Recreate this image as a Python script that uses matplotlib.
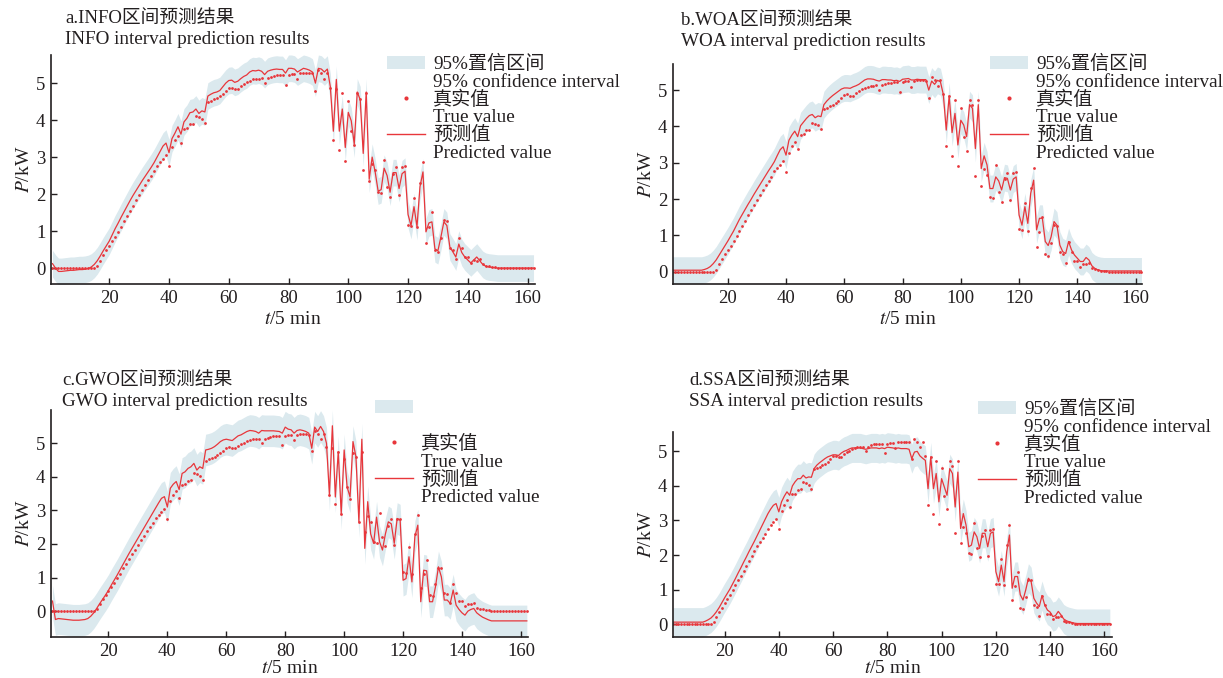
import numpy as np
import matplotlib.pyplot as plt
from matplotlib.patches import Patch
from matplotlib.lines import Line2D

plt.rcParams['font.family'] = ['Liberation Serif', 'Noto Sans CJK SC']
plt.rcParams['mathtext.fontset'] = 'stix'
ink = '#231f20'
plt.rcParams['text.color'] = ink
plt.rcParams['axes.labelcolor'] = ink
plt.rcParams['xtick.color'] = ink
plt.rcParams['ytick.color'] = ink

# 时间步 (5 min)
t = np.arange(1, 163)

# 真实值 (四个子图相同)
true_p = [0]*15 + [
    0.05, 0.2, 0.36, 0.48, 0.6, 0.72, 0.85, 0.98, 1.12, 1.27,
    1.4, 1.55, 1.69, 1.83, 1.97, 2.11, 2.25, 2.38, 2.5, 2.62,
    2.76, 2.86, 2.95, 3.05, 2.75, 3.28, 3.45, 3.58, 3.38, 3.76,
    3.78, 3.89, 3.9, 4.1, 4.08, 4.03, 3.92, 4.48, 4.52, 4.56,
    4.6, 4.64, 4.7, 4.78, 4.87, 4.88, 4.85, 4.85, 4.92, 4.98,
    5.02, 5.07, 5.1, 5.12, 5.12, 5.13, 5.01, 5.13, 5.17, 5.2,
    5.21, 5.22, 5.22, 4.94, 5.22, 5.24, 5.24, 5.1, 5.26, 5.28,
    5.27, 5.27, 5.26, 4.78, 5.35, 5.27, 5.12, 5.28, 4.88, 3.45,
    4.85, 3.19, 4.73, 2.9, 4.52, 3.7, 3.33, 4.72, 4.58, 2.64,
    4.73, 2.35, 2.82, 2.65, 2.05, 2.02, 2.93, 2.2, 1.93, 2.55,
    2.73, 1.97, 2.73, 2.75, 1.17, 1.15, 1.9, 1.12, 2.3, 2.86,
    0.69, 1.1, 1.51, 0.48, 0.44, 0.8, 1.29, 1.27, 0.55, 0.5,
    0.25, 0.82, 0.55, 0.3, 0.3, 0.14, 0.22, 0.2, 0.25, 0.1,
    0.07, 0.05, 0.03, 0.02, 0.01] + [0]*12

# 各模型预测值
pred_info = [
    0.12, 0.0, -0.09, -0.09, -0.08, -0.07, -0.06, -0.06, -0.05, -0.04,
    -0.04, -0.03, -0.01, 0.03, 0.1, 0.2, 0.33, 0.47, 0.6, 0.73,
    0.9, 1.07, 1.22, 1.38, 1.53, 1.68, 1.83, 1.97, 2.1, 2.23,
    2.36, 2.48, 2.6, 2.72, 2.85, 3.0, 3.15, 3.3, 3.38, 3.12,
    3.5, 3.65, 3.82, 3.62, 3.95, 4.05, 4.2, 4.22, 4.3, 4.18,
    4.25, 4.22, 4.65, 4.7, 4.74, 4.76, 4.8, 4.9, 5.0, 5.07,
    5.08, 5.02, 5.05, 5.12, 5.18, 5.22, 5.3, 5.34, 5.33, 5.35,
    5.32, 5.23, 5.32, 5.35, 5.37, 5.38, 5.37, 5.37, 5.27, 5.4,
    5.4, 5.38, 5.3, 5.35, 5.4, 5.38, 5.35, 5.3, 5.0, 5.4,
    5.38, 5.3, 5.38, 4.9, 3.7, 5.1, 3.7, 4.3, 3.26, 4.21,
    3.98, 3.35, 4.76, 4.55, 3.1, 4.76, 2.4, 3.0, 2.6, 2.08,
    2.12, 2.7, 2.5, 2.05, 2.58, 2.58, 2.15, 2.55, 2.62, 1.45,
    1.15, 1.66, 1.12, 2.2, 2.6, 0.98, 1.22, 1.25, 0.52, 0.47,
    0.84, 1.25, 1.15, 0.57, 0.44, 0.3, 0.65, 0.42, 0.3, 0.22,
    0.14, 0.22, 0.3, 0.2, 0.1, 0.05, 0.03, 0.02, 0.01] + [0.0]*13

pred_woa = [0.04]*11 + [
    0.06, 0.09, 0.14, 0.22, 0.32, 0.45, 0.58, 0.71, 0.84, 0.98,
    1.12, 1.28, 1.44, 1.58, 1.72, 1.86, 1.99, 2.13, 2.26, 2.39,
    2.52, 2.65, 2.78, 2.9, 3.03, 3.2, 3.36, 3.44, 3.21, 3.62,
    3.76, 3.87, 3.72, 4.02, 4.12, 4.22, 4.3, 4.33, 4.24, 4.29,
    4.27, 4.6, 4.7, 4.78, 4.85, 4.91, 4.97, 5.03, 5.06, 5.06,
    5.05, 5.09, 5.12, 5.16, 5.22, 5.28, 5.31, 5.31, 5.3, 5.27,
    5.25, 5.29, 5.29, 5.28, 5.28, 5.26, 5.27, 5.24, 5.3, 5.31,
    5.32, 5.28, 5.28, 5.3, 5.29, 5.29, 5.29, 5.0, 5.25, 5.16,
    5.27, 5.23, 4.88, 3.9, 4.84, 3.83, 4.36, 3.49, 4.17, 4.04,
    3.72, 4.6, 4.5, 3.39, 4.6, 2.84, 3.19, 2.94, 2.29, 2.29,
    2.61, 2.5, 2.25, 2.59, 2.57, 2.25, 2.55, 2.61, 1.56, 1.28,
    1.79, 1.33, 2.16, 2.52, 1.15, 1.47, 1.47, 0.83, 0.72, 0.96,
    1.38, 1.28, 0.73, 0.55, 0.5, 0.83, 0.6, 0.46, 0.37, 0.28,
    0.28, 0.39, 0.32, 0.16, 0.09, 0.05, 0.03] + [0.02]*14

pred_gwo = [
    0.3, -0.25, -0.22, -0.23, -0.24, -0.25, -0.26, -0.27, -0.27, -0.27,
    -0.26, -0.25, -0.22, -0.15, -0.05, 0.08, 0.22, 0.35, 0.48, 0.62,
    0.78, 0.93, 1.08, 1.24, 1.4, 1.56, 1.72, 1.87, 2.02, 2.17,
    2.32, 2.47, 2.62, 2.77, 2.92, 3.07, 3.22, 3.36, 3.41, 3.1,
    3.66, 3.78, 3.86, 3.62, 4.1, 4.15, 4.25, 4.3, 4.4, 4.2,
    4.3, 4.25, 4.8, 4.82, 4.85, 4.9, 4.97, 5.05, 5.1, 5.12,
    5.1, 5.08, 5.15, 5.22, 5.25, 5.3, 5.35, 5.38, 5.37, 5.35,
    5.3, 5.38, 5.37, 5.37, 5.37, 5.37, 5.36, 5.35, 5.3, 5.48,
    5.42, 5.4, 5.3, 5.38, 5.4, 5.38, 5.35, 5.3, 4.85, 5.48,
    5.35, 5.5, 5.35, 5.0, 3.46, 5.52, 3.4, 4.75, 2.9, 4.8,
    3.7, 3.4, 5.05, 4.6, 2.66, 5.12, 1.87, 3.26, 2.3, 2.02,
    2.8, 2.07, 1.82, 2.3, 2.66, 2.6, 2.02, 2.76, 2.71, 0.92,
    0.97, 1.62, 0.87, 2.22, 2.56, 0.28, 1.22, 1.2, 0.28, 0.28,
    0.73, 1.32, 1.02, 0.33, 0.33, 0.23, 0.63, 0.18, 0.05, -0.05,
    -0.12, 0.0, 0.05, 0.08, -0.05, -0.12, -0.18, -0.22, -0.26] + [-0.29]*13

pred_ssa = [0.06]*12 + [
    0.09, 0.13, 0.18, 0.26, 0.36, 0.48, 0.62, 0.76, 0.89, 1.02,
    1.17, 1.32, 1.48, 1.63, 1.79, 1.94, 2.1, 2.25, 2.4, 2.56,
    2.72, 2.88, 3.04, 3.2, 3.33, 3.44, 3.49, 3.25, 3.54, 3.7,
    3.83, 3.73, 4.0, 4.12, 4.21, 4.21, 4.31, 4.23, 4.26, 4.25,
    4.5, 4.6, 4.67, 4.73, 4.79, 4.84, 4.87, 4.9, 4.9, 4.88,
    4.95, 5.0, 5.03, 5.07, 5.1, 5.1, 5.1, 5.1, 5.08, 5.06,
    5.08, 5.1, 5.1, 5.1, 5.08, 5.1, 5.08, 5.12, 5.11, 5.1,
    5.08, 5.1, 5.08, 5.08, 5.08, 5.06, 4.79, 4.98, 5.0, 4.87,
    4.8, 4.74, 3.92, 4.84, 3.92, 4.36, 3.54, 4.21, 3.97, 3.73,
    4.5, 4.36, 3.39, 4.4, 2.77, 3.2, 2.87, 2.24, 2.29, 2.67,
    2.53, 2.19, 2.63, 2.63, 2.24, 2.63, 2.67, 1.52, 1.23, 1.71,
    1.23, 2.1, 2.58, 1.04, 1.38, 1.38, 0.85, 0.7, 0.99, 1.33,
    1.23, 0.75, 0.61, 0.51, 0.83, 0.56, 0.41, 0.35, 0.22, 0.25,
    0.37, 0.27, 0.15, 0.1, 0.07, 0.05, 0.03] + [0.02]*13

# 置信区间半宽
half_width = [0.36, 0.37, 0.47, 0.42]

titles_cn = ['a.INFO区间预测结果', 'b.WOA区间预测结果', 'c.GWO区间预测结果', 'd.SSA区间预测结果']
titles_en = ['INFO interval prediction results', 'WOA interval prediction results',
             'GWO interval prediction results', 'SSA interval prediction results']
preds = [pred_info, pred_woa, pred_gwo, pred_ssa]

W, H = 1223, 678
band_c = '#dbe9ee'
red = '#e8363b'

# 像素位置: 左, 上, 右, 下
boxes = [(51, 55, 535, 284), (673, 64, 1142, 284), (51, 410, 528, 637), (673, 432, 1112, 637)]
ylims = [(-0.43, 5.76), (-0.34, 5.72), (-0.77, 5.99), (-0.37, 5.56)]
xlims = [(0.5, 162.5), (1.2, 162.2), (0.5, 162.4), (1.0, 162.8)]
title_pos = [(65, 18), (681, 20), (62, 380), (689, 380)]
legend_pos = [(387, 55), (990, 55), (375, 400), (978, 400)]
xlabel_pad = [3, 3, 0, 0]

fig = plt.figure(figsize=(W / 100, H / 100), dpi=100)

for i in range(4):
    l, tp, r, b = boxes[i]
    ax = fig.add_axes([l / W, 1 - b / H, (r - l) / W, (b - tp) / H])
    p = np.array(preds[i])
    hw = half_width[i]
    ax.fill_between(t, p - hw, p + hw, color=band_c, lw=0)
    ax.plot(t, p, color=red, lw=0.9)
    ax.plot(t, true_p, 'o', ms=2.0, color=red, mec='none')

    ax.set_xlim(*xlims[i])
    ax.set_ylim(*ylims[i])
    ax.set_xticks(range(20, 161, 20))
    ax.set_yticks(range(6))
    for s in ['top', 'right']:
        ax.spines[s].set_visible(False)
    for s in ['left', 'bottom']:
        ax.spines[s].set_linewidth(1.2)
        ax.spines[s].set_color(ink)
    ax.tick_params(direction='in', length=4, width=1, labelsize=13.5, pad=4)
    ax.set_xlabel('$t$/5 min', fontsize=14, labelpad=xlabel_pad[i])
    ax.set_ylabel('$P$/kW', fontsize=14, labelpad=2)

    tx, ty = title_pos[i]
    fig.text(tx / W, 1 - ty / H, titles_cn[i], fontsize=13.5, va='center')
    fig.text(tx / W, 1 - (ty + 22) / H, titles_en[i], fontsize=13.8, va='center')

    blank = Patch(fc='none', ec='none')
    handles = [Patch(fc=band_c, ec='none'), blank,
               Line2D([], [], ls='none', marker='o', ms=3, color=red, mec='none'), blank,
               Line2D([], [], color=red, lw=1.0), blank]
    labels = ['95%置信区间', '95% confidence interval', '真实值', 'True value', '预测值', 'Predicted value']
    if i == 2:
        labels[0] = ' '
        labels[1] = ' '
    lx, ly = legend_pos[i]
    ax.legend(handles, labels, loc='upper left', bbox_to_anchor=(lx / W, 1 - ly / H),
              bbox_transform=fig.transFigure, frameon=False, borderpad=0, borderaxespad=0,
              handlelength=2.0, handleheight=0.7, handletextpad=0.4, labelspacing=0.0,
              fontsize=13.8)

fig.savefig('out.png', dpi=100)
